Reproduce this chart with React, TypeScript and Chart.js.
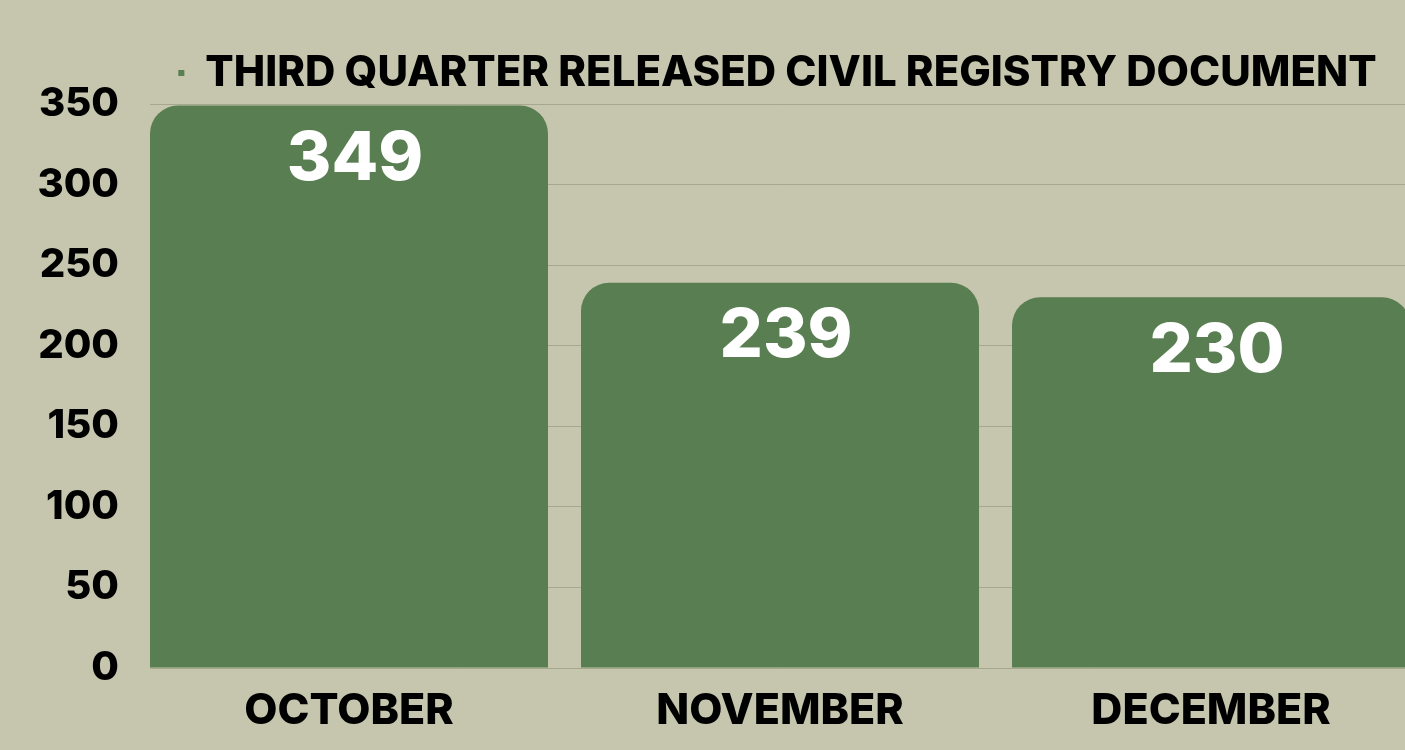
import React, { useEffect, useRef } from "react";
import { Chart, registerables } from "chart.js";

Chart.register(...registerables);

const months = ["OCTOBER", "NOVEMBER", "DECEMBER"];
const released = [349, 239, 230];
const seriesName = "THIRD QUARTER RELEASED CIVIL REGISTRY DOCUMENT";
const yTicks = [0, 50, 100, 150, 200, 250, 300, 350];

const BG = "#C5C6AD";
const BAR = "#587E51";
const GRID = "#A6A78F";
const FONT = "Inter, 'Noto Sans', sans-serif";

const valueLabels = {
  id: "valueLabels",
  afterDatasetsDraw(chart: any) {
    const ctx = chart.ctx;
    const meta = chart.getDatasetMeta(0);
    ctx.save();
    ctx.fillStyle = "#FFFFFF";
    ctx.font = `800 68px ${FONT}`;
    ctx.textAlign = "center";
    ctx.textBaseline = "middle";
    meta.data.forEach((bar: any, i: number) => {
      ctx.fillText(String(released[i]), bar.x + 6, bar.y + 54);
    });
    ctx.restore();
  },
};

const bgPlugin = {
  id: "bgFill",
  beforeDraw(chart: any) {
    const ctx = chart.ctx;
    ctx.save();
    ctx.fillStyle = BG;
    ctx.fillRect(0, 0, chart.width, chart.height);
    ctx.restore();
  },
};

export default function App() {
  const ref = useRef<HTMLCanvasElement | null>(null);

  useEffect(() => {
    document.body.style.margin = "0";
    document.body.style.background = BG;
    const canvas = ref.current;
    if (!canvas) return;
    const chart = new Chart(canvas, {
      type: "bar",
      data: {
        datasets: [
          {
            label: seriesName,
            data: released.map((v, i) => ({ x: i, y: v })),
            backgroundColor: BAR,
            borderRadius: { topLeft: 28, topRight: 28, bottomLeft: 0, bottomRight: 0 },
            borderSkipped: false,
            categoryPercentage: 1,
            barPercentage: 0.9234,
          },
        ],
      },
      options: {
        responsive: false,
        animation: false,
        maintainAspectRatio: false,
        layout: { padding: { top: 52, left: 0, right: 0, bottom: 0 } },
        plugins: {
          legend: {
            display: true,
            position: "top",
            fullSize: false,
            labels: {
              boxWidth: 6,
              boxHeight: 6,
              color: "#000000",
              font: { family: FONT, size: 42, weight: "800", lineHeight: 1 },
              padding: 0,
            },
          },
          tooltip: { enabled: false },
        },
        scales: {
          x: {
            type: "linear",
            offset: false,
            min: -0.4617,
            max: 2.45,
            grid: { display: false, offset: false },
            border: { display: false },
            afterBuildTicks(scale: any) {
              scale.ticks = months.map((_, i) => ({ value: i }));
            },
            afterFit(scale: any) {
              scale.height = 82;
            },
            ticks: {
              color: "#000000",
              font: { family: FONT, size: 43, weight: "800" },
              padding: 9,
              maxRotation: 0,
              autoSkip: false,
              callback: (v: any) => months[Math.round(Number(v))] ?? "",
            },
          },
          y: {
            min: 0,
            max: 350,
            afterBuildTicks(scale: any) {
              scale.ticks = yTicks.map((v) => ({ value: v }));
            },
            afterFit(scale: any) {
              scale.width = 150;
            },
            grid: { color: GRID, lineWidth: 1, drawTicks: false },
            border: { display: false },
            ticks: {
              color: "#000000",
              font: { family: FONT, size: 40, weight: "800" },
              padding: 31,
            },
          },
        },
      },
      plugins: [bgPlugin, valueLabels],
    } as any);
    return () => chart.destroy();
  }, []);

  return (
    <div style={{ width: 1405, height: 750, background: BG }}>
      <canvas ref={ref} width={1405} height={750} style={{ display: "block" }} />
    </div>
  );
}
